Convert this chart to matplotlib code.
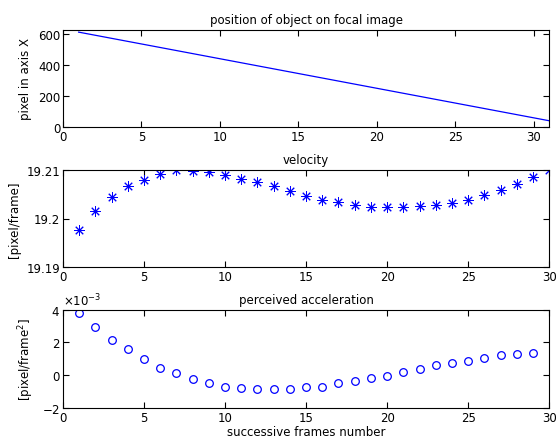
import matplotlib
matplotlib.use('Agg')
import matplotlib.pyplot as plt
import numpy as np

# position of object on the focal image, frames 1..31
frames_pos = np.arange(1, 32)
position = [615.0, 595.8, 576.6, 557.4, 538.2, 519.0, 499.8, 480.6, 461.4, 442.2,
            423.0, 403.8, 384.6, 365.4, 346.2, 327.0, 307.8, 288.6, 269.4, 250.2,
            231.0, 211.8, 192.6, 173.4, 154.2, 135.0, 115.8, 96.6, 77.4, 58.2, 39.0]

# velocity, frames 1..30
frames_vel = np.arange(1, 31)
velocity = [19.1976, 19.2015, 19.2044, 19.2067, 19.2080, 19.2091, 19.2099, 19.2098,
            19.2095, 19.2090, 19.2082, 19.2075, 19.2066, 19.2056, 19.2047, 19.2039,
            19.2034, 19.2028, 19.2024, 19.2023, 19.2023, 19.2025, 19.2028, 19.2032,
            19.2039, 19.2048, 19.2058, 19.2071, 19.2085, 19.2099]

# perceived acceleration (x 1e-3), frames 1..29
frames_acc = np.arange(1, 30)
acceleration = [3.80, 2.96, 2.15, 1.57, 0.96, 0.46, 0.11, -0.26, -0.50, -0.70,
                -0.80, -0.87, -0.87, -0.87, -0.74, -0.70, -0.50, -0.37, -0.20, -0.02,
                0.20, 0.35, 0.59, 0.72, 0.89, 1.07, 1.20, 1.26, 1.33]

plt.rcParams['font.size'] = 8.5
plt.rcParams['font.family'] = 'DejaVu Sans'

fig = plt.figure(figsize=(5.57, 4.39), dpi=100)
ax1 = fig.add_axes([0.113, 0.709, 0.873, 0.2215])
ax2 = fig.add_axes([0.113, 0.3895, 0.873, 0.221])
ax3 = fig.add_axes([0.113, 0.0683, 0.873, 0.2244])

for ax in (ax1, ax2, ax3):
    ax.tick_params(direction='in', top=True, right=True, length=4, width=0.8, pad=2)
    for s in ax.spines.values():
        s.set_linewidth(0.8)

ax1.plot(frames_pos, position, color='blue', lw=0.9)
ax1.set_xlim(0, 31)
ax1.set_ylim(0, 632)
ax1.set_xticks(np.arange(0, 31, 5))
ax1.set_yticks([0, 200, 400, 600])
ax1.set_title('position of object on focal image', fontsize=8.5, pad=5)
ax1.set_ylabel('pixel in axis X')

# asterisk marker like matlab '*'
ax2.plot(frames_vel, velocity, linestyle='none', marker=(8, 2, 0), color='blue',
         markersize=7.5, mew=0.7)
ax2.set_xlim(0, 30)
ax2.set_ylim(19.19, 19.21)
ax2.set_xticks(np.arange(0, 31, 5))
ax2.set_yticks([19.19, 19.2, 19.21])
ax2.set_yticklabels(['19.19', '19.2', '19.21'])
ax2.set_title('velocity', fontsize=8.5, pad=5)
ax2.set_ylabel('[pixel/frame]')

ax3.plot(frames_acc, np.array(acceleration) * 1e-3, 'o', color='blue',
         markerfacecolor='none', markersize=5.5, mew=0.9)
ax3.set_xlim(0, 30)
ax3.set_ylim(-2e-3, 4e-3)
ax3.set_xticks(np.arange(0, 31, 5))
ax3.set_yticks([-2e-3, 0, 2e-3, 4e-3])
ax3.ticklabel_format(axis='y', style='sci', scilimits=(0, 0), useMathText=True)
ax3.set_title('perceived acceleration', fontsize=8.5, pad=5)
ax3.set_ylabel('[pixel/frame$^2$]')
ax3.set_xlabel('successive frames number', labelpad=1)

fig.savefig('out.png', dpi=100)
